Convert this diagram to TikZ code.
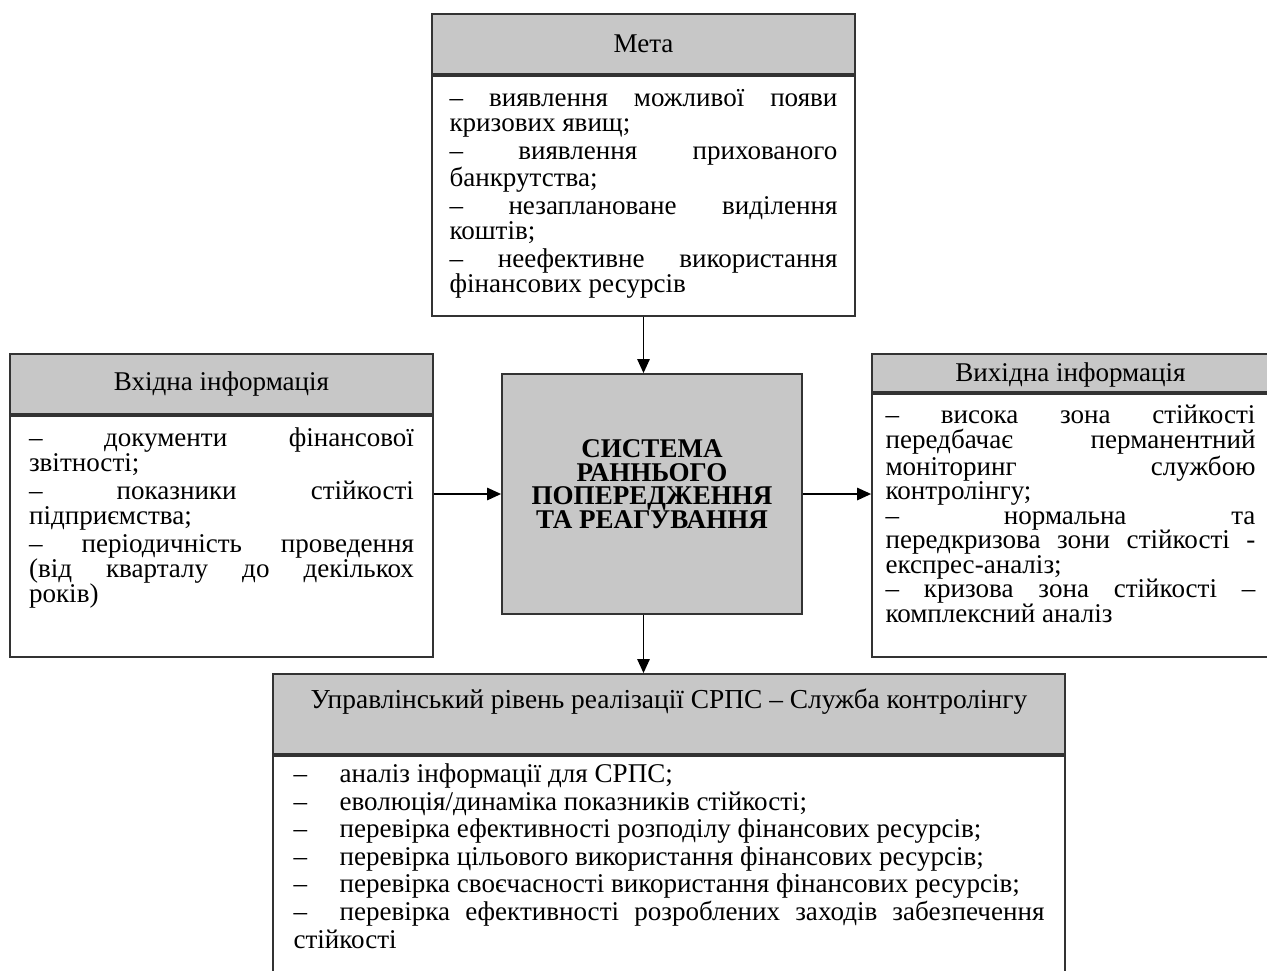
\documentclass[tikz,border=0pt]{standalone}
\usepackage{fontspec}
\setmainfont{Liberation Serif}
\usetikzlibrary{positioning,arrows.meta}
\setlength{\lineskiplimit}{-100pt}

% texte justifie dans un cadre de hauteur fixe
\newcommand{\texte}[3]{\parbox[t][#1][t]{#2}{\fontsize{15.4}{14.2}\selectfont
  \parskip=1.7pt\hyphenpenalty=10000\exhyphenpenalty=10000
  \tolerance=10000\hbadness=10000 #3}}
\newcommand{\tiret}{\makebox[0.92cm][l]{–}}

\begin{document}
\begin{tikzpicture}[x=0.02cm,y=-0.02cm]

\tikzset{titre/.style={draw=black!80,line width=1pt,fill=black!22,inner sep=0pt,
           font=\fontsize{15.4}{14.8}\selectfont},
         corps/.style={draw=black!80,line width=1pt,fill=white,anchor=north,inner sep=0pt},
         fleche/.style={line width=1.1pt,-{Triangle[length=8pt,width=7pt]}}} %styles des cadres

\useasboundingbox (0,0) rectangle (1267,970);

%--------------------Мета---------------------
\node[titre,minimum width=8.46cm,minimum height=1.2cm] (meta_titre) at (643.5,44) {Мета};
\node[corps,minimum width=8.46cm,minimum height=4.8cm] (meta_corps) at (meta_titre.south)
  {\texte{4.24cm}{7.76cm}{– виявлення можливої появи\linebreak кризових явищ;\par
   – виявлення прихованого\linebreak банкрутства;\par
   – незаплановане виділення\linebreak коштів;\par
   – неефективне використання\linebreak фінансових ресурсів}};

%--------------------Вхідна інформація---------------------
\node[titre,minimum width=8.46cm,minimum height=1.2cm] (gauche_titre) at (221.5,384) {Вхідна інформація};
\node[corps,minimum width=8.46cm,minimum height=4.82cm] (gauche_corps) at (gauche_titre.south)
  {\texte{4.34cm}{7.7cm}{– документи фінансової\linebreak звітності;\par
   – показники стійкості\linebreak підприємства;\par
   – періодичність проведення\linebreak (від кварталу до декількох\linebreak років)}};

%--------------------Вихідна інформація---------------------
\node[titre,minimum width=7.94cm,minimum height=0.76cm,text depth=0.05cm] (droite_titre) at (1070.5,373) {Вихідна інформація};
\node[corps,minimum width=7.94cm,minimum height=5.26cm] (droite_corps) at (droite_titre.south)
  {\texte{4.8cm}{7.4cm}{\fontsize{15.4}{13.95}\selectfont\parskip=0pt
   – висока зона стійкості\linebreak передбачає перманентний\linebreak
   моніторинг службою\linebreak контролінгу;\par
   – нормальна та\linebreak передкризова зони стійкості -\linebreak експрес-аналіз;\par
   – кризова зона стійкості –\linebreak комплексний аналіз}};

%--------------------система---------------------
\node[draw=black!80,line width=1pt,fill=black!22,minimum width=6cm,minimum height=4.8cm,
  align=center,text depth=0.4cm,font=\fontsize{15.4}{13.3}\selectfont\bfseries] (systeme) at (652,494)
  {СИСТЕМА\\РАННЬОГО\\ПОПЕРЕДЖЕННЯ\\ТА РЕАГУВАННЯ};

%--------------------Служба контролінгу---------------------
\node[titre,minimum width=15.84cm,minimum height=1.6cm,text depth=0.62cm,
  font=\fontsize{15.6}{14.8}\selectfont] (bas_titre) at (669,714)
  {Управлінський рівень реалізації СРПС – Служба контролінгу};
\node[corps,minimum width=15.84cm,minimum height=4.42cm] (bas_corps) at (bas_titre.south)
  {\texte{4.1cm}{15.02cm}{\fontsize{15.4}{15.7}\selectfont\parskip=0pt
   \tiret аналіз інформації для СРПС;\par
   \tiret еволюція/динаміка показників стійкості;\par
   \tiret перевірка ефективності розподілу фінансових ресурсів;\par
   \tiret перевірка цільового використання фінансових ресурсів;\par
   \tiret перевірка своєчасності використання фінансових ресурсів;\par
   \tiret перевірка ефективності розроблених заходів забезпечення\linebreak стійкості}};

%flèches
\draw[fleche] (meta_corps.south) -- (meta_corps.south |- systeme.north);
\draw[fleche] (systeme.west -| gauche_corps.east) -- (systeme.west);
\draw[fleche] (systeme.east) -- (systeme.east -| droite_corps.west);
\draw[fleche] (systeme.south -| meta_corps.south) -- (bas_titre.north -| meta_corps.south);

\end{tikzpicture}
\end{document}
